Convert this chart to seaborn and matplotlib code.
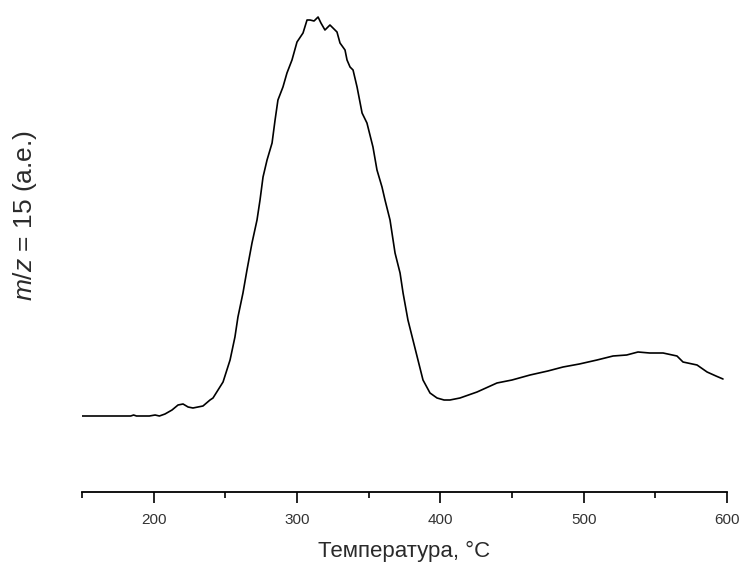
import numpy as np
import pandas as pd
import seaborn as sns
import matplotlib
matplotlib.use("Agg")
import matplotlib.pyplot as plt
from matplotlib.ticker import MultipleLocator

# Data (temperature in °C, signal in arbitrary units)
temperature = [150.0, 170.0, 184.0, 186.0, 188.0, 197.0, 201.0, 204.0, 207.9, 212.8, 217.0,
               220.5, 224.0, 227.4, 234.4, 239.3, 241.4, 248.4, 253.3, 256.7, 258.8,
               262.3, 265.1, 268.6, 272.1, 274.2, 276.3, 279.1, 282.6, 284.7, 286.7,
               290.2, 293.0, 296.5, 300.0, 304.2, 307.0, 309.1, 311.9, 314.7, 316.7,
               319.5, 323.0, 325.1, 327.9, 330.0, 333.5, 334.9, 337.0, 339.1, 341.9,
               345.4, 348.8, 353.0, 355.8, 359.3, 361.4, 364.9, 368.4, 371.9, 374.0,
               377.4, 380.9, 384.4, 387.9, 392.8, 397.7, 402.6, 406.7, 413.7, 425.6,
               439.5, 450.0, 462.6, 475.0, 485.6, 497.0, 509.3, 520.5, 530.0, 537.9,
               546.0, 555.4, 565.1, 569.3, 579.1, 586.1, 592.3, 597.2]
signal = [0, 0, 0, 1, 0, 0, 1, 0, 2, 6, 11,
          12, 9, 8, 10, 16, 18, 34, 56, 79, 99,
          123, 146, 173, 196, 216, 239, 256, 273, 296, 316,
          329, 343, 356, 374, 383, 396, 396, 395, 399, 393,
          386, 391, 388, 384, 373, 366, 356, 349, 346, 329,
          303, 293, 269, 246, 229, 216, 196, 163, 143, 123,
          96, 76, 56, 36, 23, 18, 16, 16, 18, 24,
          33, 36, 41, 45, 49, 52, 56, 60, 61, 64,
          63, 63, 60, 54, 51, 44, 40, 37]

x_ticks = [200, 300, 400, 500, 600]
x_label = "Температура, °C"
y_label = r"$\mathit{m/z}$ = 15 (a.e.)"

df = pd.DataFrame({"T": temperature, "S": signal})

sns.set_style("white")
plt.rcParams['font.family'] = ['Liberation Sans', 'DejaVu Sans']
plt.rcParams['mathtext.fontset'] = 'custom'
plt.rcParams['mathtext.it'] = 'Liberation Sans:italic'
plt.rcParams['mathtext.rm'] = 'Liberation Sans'

fig = plt.figure(figsize=(7.47, 5.79), dpi=100)
ax = fig.add_axes([82 / 747, 87 / 579, 645 / 747, 482 / 579])

sns.lineplot(data=df, x="T", y="S", color="black", linewidth=1.2, ax=ax)

ax.set_xlim(150, 600)
ax.set_ylim(-76, 406)
sns.despine(ax=ax, left=True)
ax.set_yticks([])
ax.set_xticks(x_ticks)
ax.xaxis.set_minor_locator(MultipleLocator(50))
ax.spines['bottom'].set_linewidth(1.3)
ax.spines['bottom'].set_color('black')
ax.tick_params(axis='x', which='major', direction='out', length=8, width=1.2,
               color='black', pad=7, labelsize=11, labelcolor='#333333', bottom=True)
ax.tick_params(axis='x', which='minor', direction='out', length=4, width=1.2,
               color='black', bottom=True)

ax.set_xlabel(x_label, fontsize=16, color='#2a2a2a', labelpad=10)
ax.set_ylabel(y_label, fontsize=19, color='#2a2a2a')
ax.yaxis.set_label_coords(-0.066, 0.574)

fig.savefig("out.png", dpi=100)
